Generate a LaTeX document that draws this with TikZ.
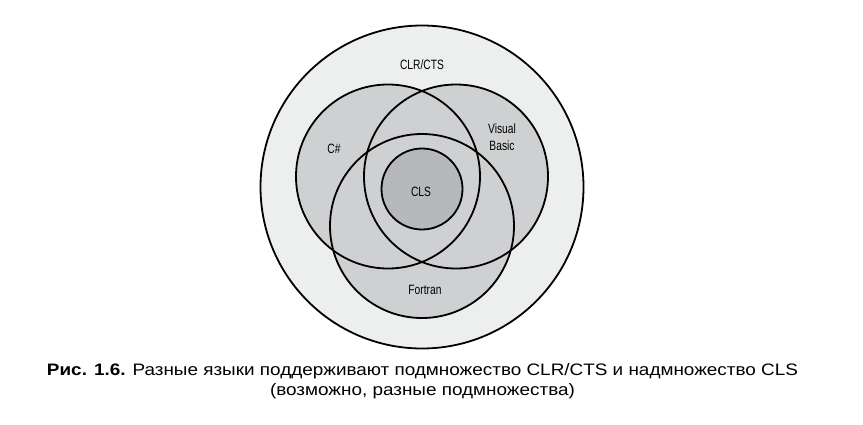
\documentclass[tikz,border=0pt]{standalone}
\usepackage{fontspec}
\setmainfont{Liberation Sans}
\newfontfamily\condfont[FakeStretch=0.76]{Liberation Sans}
\definecolor{outerfill}{HTML}{EDEEEE}
\definecolor{langfill}{HTML}{CFD0D2}
\definecolor{clsfill}{HTML}{B7B8BB}
\newlength\capwidth
\newcommand\capfont{\fontsize{16.6}{20}\selectfont}
\newcommand\caplineone{\textbf{Рис. 1.6.} Разные языки поддерживают подмножество CLR/CTS и надмножество CLS}
\newcommand\caplinetwo{(возможно, разные подмножества)}
\begin{document}
\settowidth\capwidth{\capfont\caplineone}
\pgfmathsetmacro\capscale{751/\the\capwidth}
\begin{tikzpicture}[x=1pt,y=-1pt,
  ring/.style={circle, inner sep=0pt, line width=1.8pt},
  lbl/.style={font=\condfont\fontsize{13.5}{14}\selectfont, inner sep=0pt, align=center},
  captext/.style={font=\capfont, inner sep=0pt, anchor=base}]
\useasboundingbox (0,0) rectangle (863,424);
\fill[white] (0,0) rectangle (863,424);
\node[ring, draw, fill=outerfill, minimum size=323pt] (clr) at (422,187) {};
\node[ring, fill=langfill, minimum size=184pt] (cs) at (388,176.5) {};
\node[ring, fill=langfill, minimum size=184pt] (vb) at (456,176.5) {};
\node[ring, fill=langfill, minimum size=184pt] (ft) at (422,226) {};
\draw[line width=1.8pt] (cs.center) circle[radius=92pt];
\draw[line width=1.8pt] (vb.center) circle[radius=92pt];
\draw[line width=1.8pt] (ft.center) circle[radius=92pt];
\node[ring, draw, fill=clsfill, minimum size=81pt] (cls) at (422,189) {};
\node[lbl] (tclr) at (422,65) {CLR/CTS};
\node[lbl] (tcs) at (334,148.5) {C\#};
\node[lbl] (tvb) at (502,137) {Visual\\[3pt]Basic};
\node[lbl] (tcls) at (421,192) {CLS};
\node[lbl] (tft) at (425,290) {Fortran};
\node[captext] (cap1) at (422.5,375) {\scalebox{\capscale}[1]{\caplineone}};
\node[captext] (cap2) at (422.5,395) {\scalebox{\capscale}[1]{\caplinetwo}};
\end{tikzpicture}
\end{document}
